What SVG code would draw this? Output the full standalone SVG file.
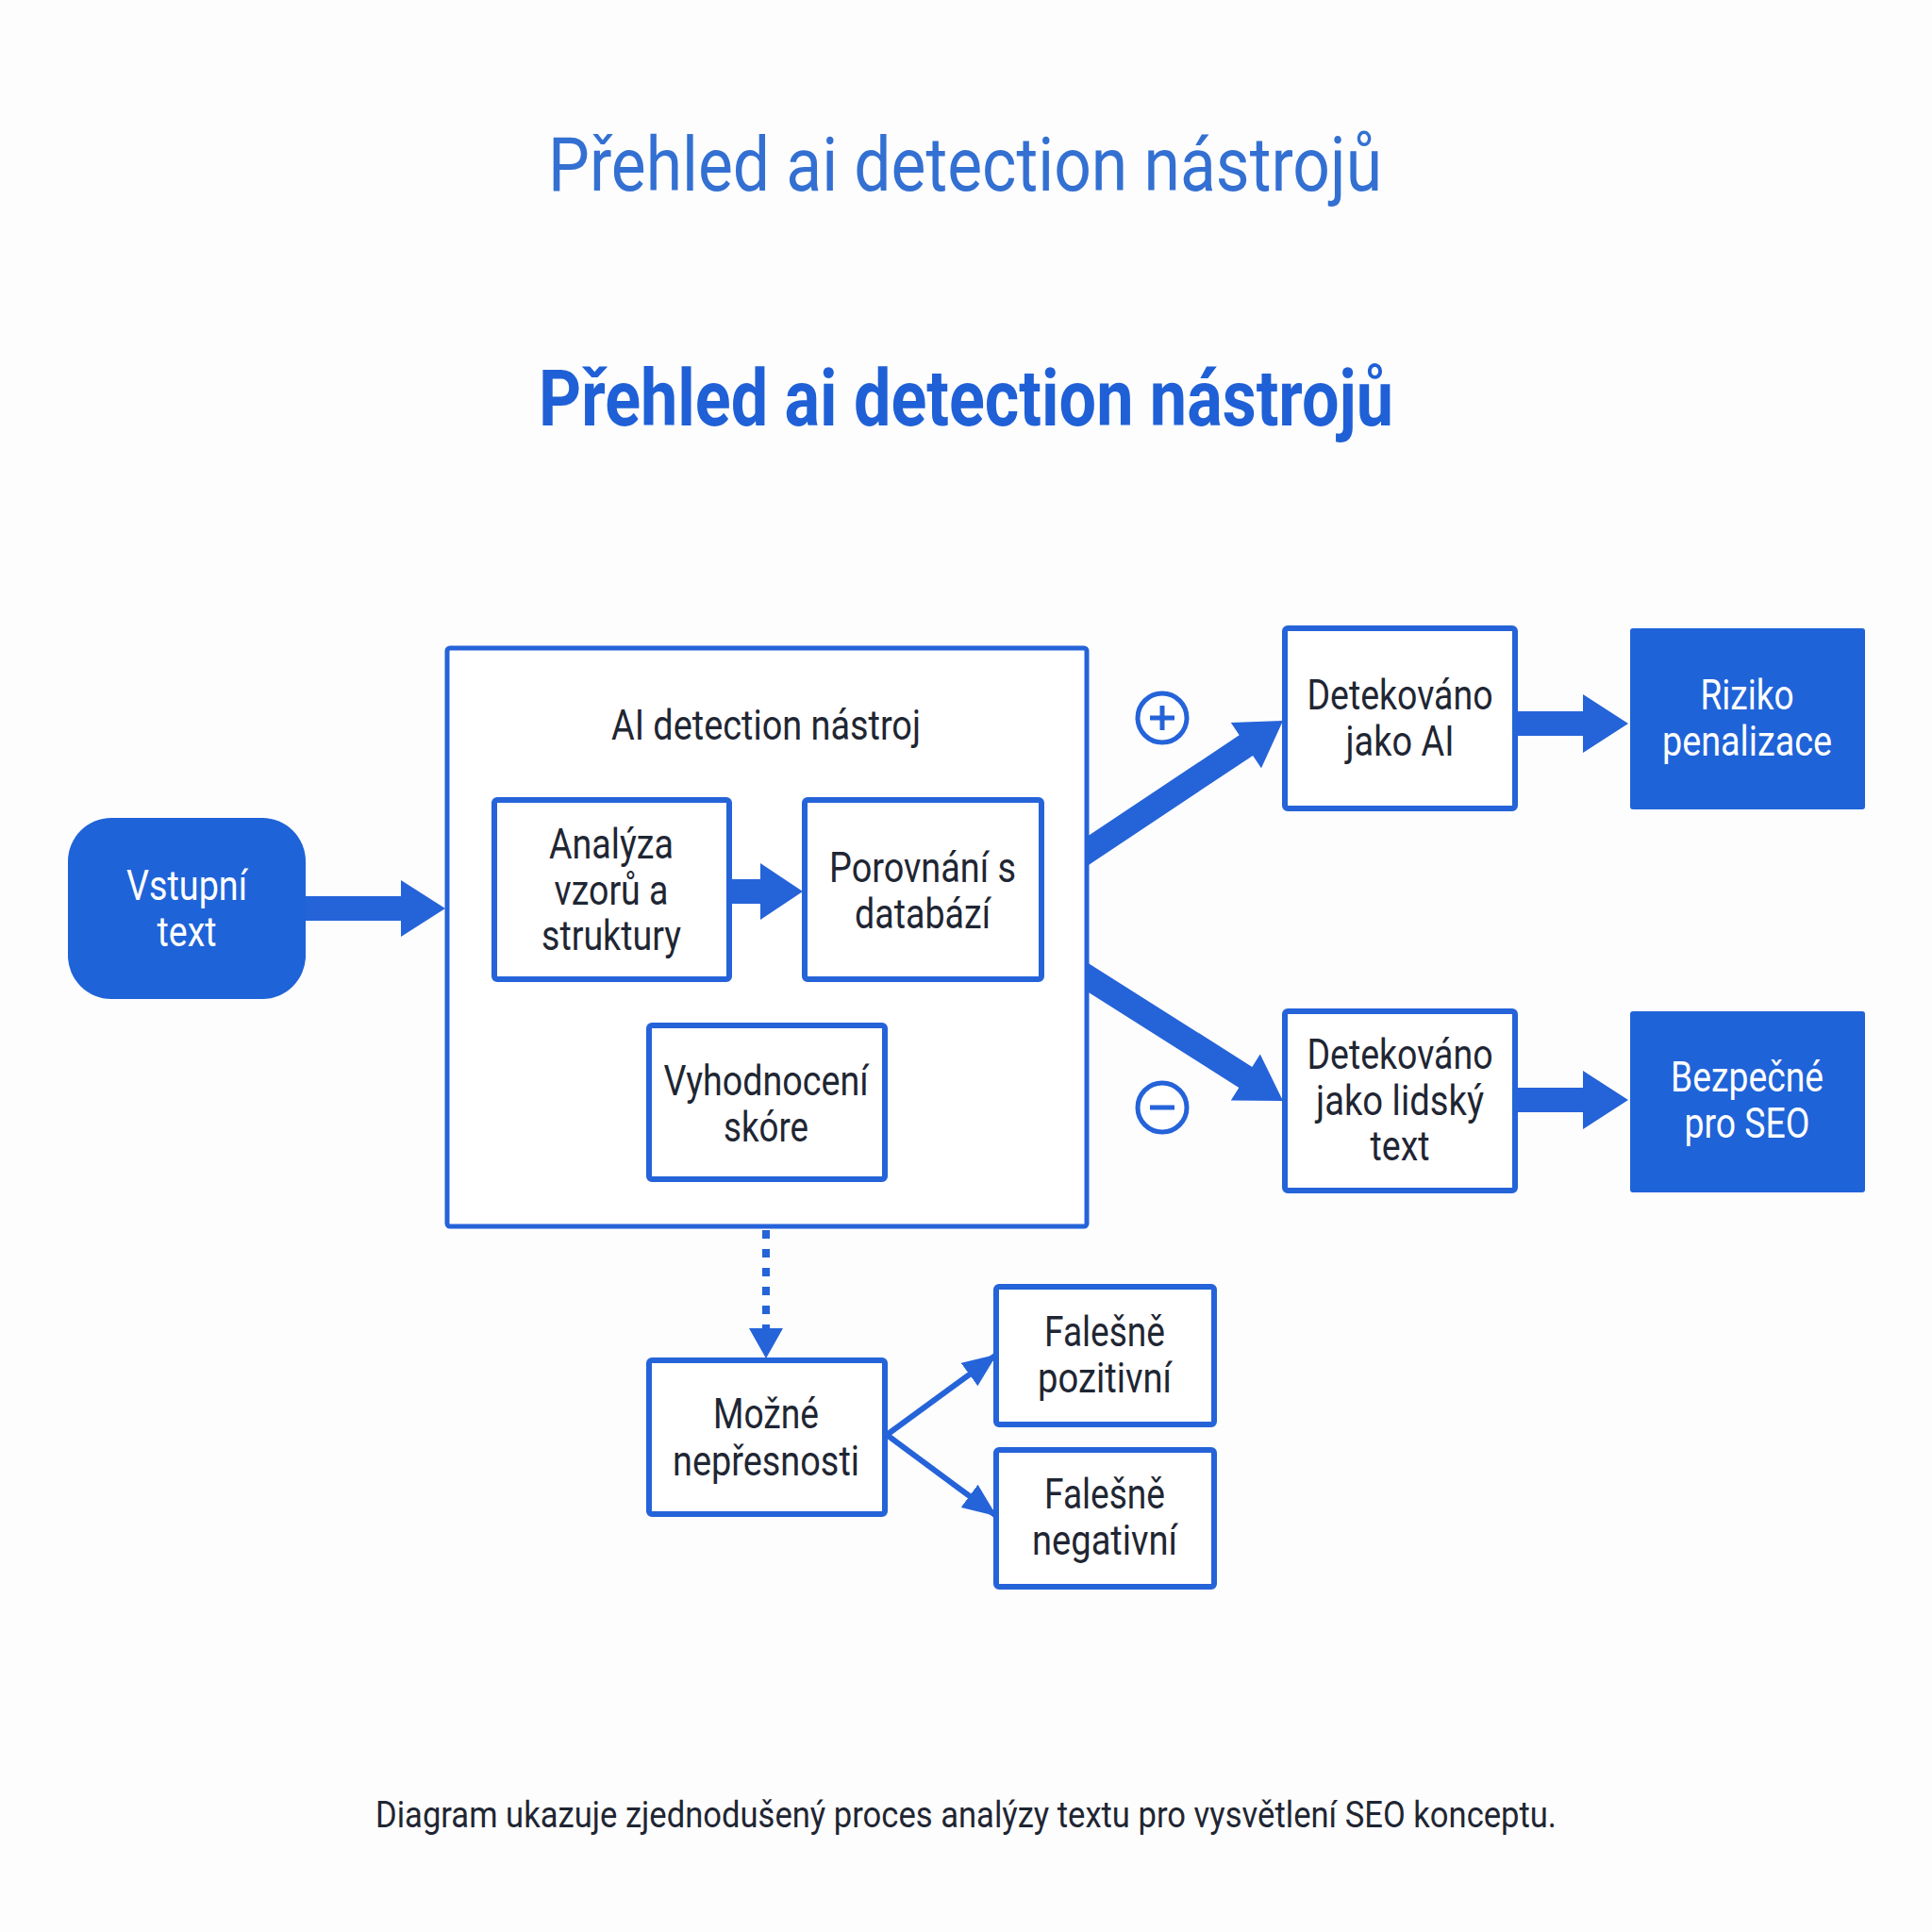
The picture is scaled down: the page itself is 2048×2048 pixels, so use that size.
<svg xmlns="http://www.w3.org/2000/svg" width="2048" height="2048" viewBox="0 0 2048 2048">
<defs>
<style>
.box{fill:#fff;stroke:#2563d9;stroke-width:6}
.cont{fill:#fff;stroke:#2563d9;stroke-width:5}
.solid{fill:#1f63d8}
.t{font-family:Roboto,"Liberation Sans",sans-serif;font-size:44px;fill:#1f2633;text-anchor:middle}
.tw{font-family:Roboto,"Liberation Sans",sans-serif;font-size:44px;fill:#ffffff;text-anchor:middle}
.blk{fill:#2563d9}
.thin{stroke:#2563d9;stroke-width:6;fill:none}
.sign{fill:#fff;stroke:#2563d9;stroke-width:5}
</style>
<marker id="ah" markerUnits="userSpaceOnUse" markerWidth="36" markerHeight="30" refX="34" refY="15" orient="auto">
<path d="M0,0 L36,15 L0,30 z" fill="#2563d9"/>
</marker>
<clipPath id="outside"><rect x="1152" y="0" width="896" height="2048"/></clipPath>
</defs>
<rect x="0" y="0" width="2048" height="2048" fill="#fdfdfd"/>

<g id="titles">
<text x="1023" y="202" font-family="Roboto,'Liberation Sans',sans-serif" font-size="79" fill="#3370d2" text-anchor="middle" textLength="884" lengthAdjust="spacingAndGlyphs">Přehled ai detection nástrojů</text>
<text x="1024" y="451" font-family="Roboto,'Liberation Sans',sans-serif" font-size="83" font-weight="bold" fill="#1f60d6" text-anchor="middle" textLength="906" lengthAdjust="spacingAndGlyphs">Přehled ai detection nástrojů</text>
</g>

<g id="container">
<rect class="cont" x="474" y="687" width="678" height="613" rx="3"/>
<text class="t" x="812" y="784" textLength="328" lengthAdjust="spacingAndGlyphs">AI detection nástroj</text>
</g>

<g id="connectors">
<polygon class="blk" points="324,950 425,950 425,933 472,963 425,993 425,976 324,976"/>
<polygon class="blk" points="773,932 806,932 806,915 851,945 806,975 806,958 773,958"/>
<polygon class="blk" points="1606,754 1678,754 1678,736 1726,767 1678,798 1678,780 1606,780"/>
<polygon class="blk" points="1606,1153 1678,1153 1678,1135 1726,1166 1678,1197 1678,1179 1606,1179"/>
<polygon class="blk" clip-path="url(#outside)" points="1144.7,923.1 1328.1,800.9 1337.0,814.2 1360,764 1304.8,766.0 1313.7,779.3 1130.3,901.5"/>
<polygon class="blk" clip-path="url(#outside)" points="1130.3,1037.0 1313.3,1152.9 1304.8,1166.4 1360,1167 1335.8,1117.4 1327.3,1130.9 1144.3,1015.0"/>
<line x1="812" y1="1304" x2="812" y2="1410" stroke="#2563d9" stroke-width="8" stroke-dasharray="9 11"/>
<polygon class="blk" points="794,1408 830,1408 812,1440"/>
<line class="thin" x1="940" y1="1521" x2="1055" y2="1437" marker-end="url(#ah)"/>
<line class="thin" x1="940" y1="1521" x2="1055" y2="1606" marker-end="url(#ah)"/>
</g>

<g id="signs">
<circle class="sign" cx="1232" cy="761" r="26"/>
<line x1="1219" y1="761" x2="1245" y2="761" stroke="#2563d9" stroke-width="5"/>
<line x1="1232" y1="748" x2="1232" y2="774" stroke="#2563d9" stroke-width="5"/>
<circle class="sign" cx="1232" cy="1174" r="26"/>
<line x1="1219" y1="1174" x2="1245" y2="1174" stroke="#2563d9" stroke-width="5"/>
</g>

<g id="vstupni">
<rect class="solid" x="72" y="867" width="252" height="192" rx="46"/>
<text class="tw" x="198" y="954" textLength="128" lengthAdjust="spacingAndGlyphs">Vstupní</text>
<text class="tw" x="198" y="1003" textLength="63" lengthAdjust="spacingAndGlyphs">text</text>
</g>

<g id="analyza">
<rect class="box" x="524" y="848" width="249" height="190" rx="3"/>
<text class="t" x="648" y="910" textLength="132" lengthAdjust="spacingAndGlyphs">Analýza</text>
<text class="t" x="648" y="959" textLength="121" lengthAdjust="spacingAndGlyphs">vzorů a</text>
<text class="t" x="648" y="1007" textLength="148" lengthAdjust="spacingAndGlyphs">struktury</text>
</g>

<g id="porovnani">
<rect class="box" x="853" y="848" width="251" height="190" rx="3"/>
<text class="t" x="978" y="935" textLength="198" lengthAdjust="spacingAndGlyphs">Porovnání s</text>
<text class="t" x="978" y="984" textLength="144" lengthAdjust="spacingAndGlyphs">databází</text>
</g>

<g id="vyhodnoceni">
<rect class="box" x="688" y="1087" width="250" height="163" rx="3"/>
<text class="t" x="812" y="1161" textLength="217" lengthAdjust="spacingAndGlyphs">Vyhodnocení</text>
<text class="t" x="812" y="1210" textLength="90" lengthAdjust="spacingAndGlyphs">skóre</text>
</g>

<g id="detekovano-ai">
<rect class="box" x="1362" y="666" width="244" height="191" rx="3"/>
<text class="t" x="1484" y="752" textLength="197" lengthAdjust="spacingAndGlyphs">Detekováno</text>
<text class="t" x="1484" y="801" textLength="115" lengthAdjust="spacingAndGlyphs">jako AI</text>
</g>

<g id="riziko">
<rect class="solid" x="1728" y="666" width="249" height="192" rx="3"/>
<text class="tw" x="1852" y="752" textLength="99" lengthAdjust="spacingAndGlyphs">Riziko</text>
<text class="tw" x="1852" y="801" textLength="180" lengthAdjust="spacingAndGlyphs">penalizace</text>
</g>

<g id="detekovano-lidsky">
<rect class="box" x="1362" y="1072" width="244" height="190" rx="3"/>
<text class="t" x="1484" y="1133" textLength="197" lengthAdjust="spacingAndGlyphs">Detekováno</text>
<text class="t" x="1484" y="1182" textLength="178" lengthAdjust="spacingAndGlyphs">jako lidský</text>
<text class="t" x="1484" y="1230" textLength="63" lengthAdjust="spacingAndGlyphs">text</text>
</g>

<g id="bezpecne">
<rect class="solid" x="1728" y="1072" width="249" height="192" rx="3"/>
<text class="tw" x="1852" y="1157" textLength="162" lengthAdjust="spacingAndGlyphs">Bezpečné</text>
<text class="tw" x="1852" y="1206" textLength="133" lengthAdjust="spacingAndGlyphs">pro SEO</text>
</g>

<g id="mozne">
<rect class="box" x="688" y="1442" width="250" height="163" rx="3"/>
<text class="t" x="812" y="1514" textLength="112" lengthAdjust="spacingAndGlyphs">Možné</text>
<text class="t" x="812" y="1564" textLength="198" lengthAdjust="spacingAndGlyphs">nepřesnosti</text>
</g>

<g id="falesne-pozitivni">
<rect class="box" x="1056" y="1364" width="231" height="146" rx="3"/>
<text class="t" x="1171" y="1427" textLength="128" lengthAdjust="spacingAndGlyphs">Falešně</text>
<text class="t" x="1171" y="1476" textLength="142" lengthAdjust="spacingAndGlyphs">pozitivní</text>
</g>

<g id="falesne-negativni">
<rect class="box" x="1056" y="1537" width="231" height="145" rx="3"/>
<text class="t" x="1171" y="1599" textLength="128" lengthAdjust="spacingAndGlyphs">Falešně</text>
<text class="t" x="1171" y="1648" textLength="154" lengthAdjust="spacingAndGlyphs">negativní</text>
</g>

<g id="footer">
<text x="1024" y="1937" font-family="Roboto,'Liberation Sans',sans-serif" font-size="38" fill="#1f2633" text-anchor="middle" textLength="1252" lengthAdjust="spacingAndGlyphs">Diagram ukazuje zjednodušený proces analýzy textu pro vysvětlení SEO konceptu.</text>
</g>
</svg>
